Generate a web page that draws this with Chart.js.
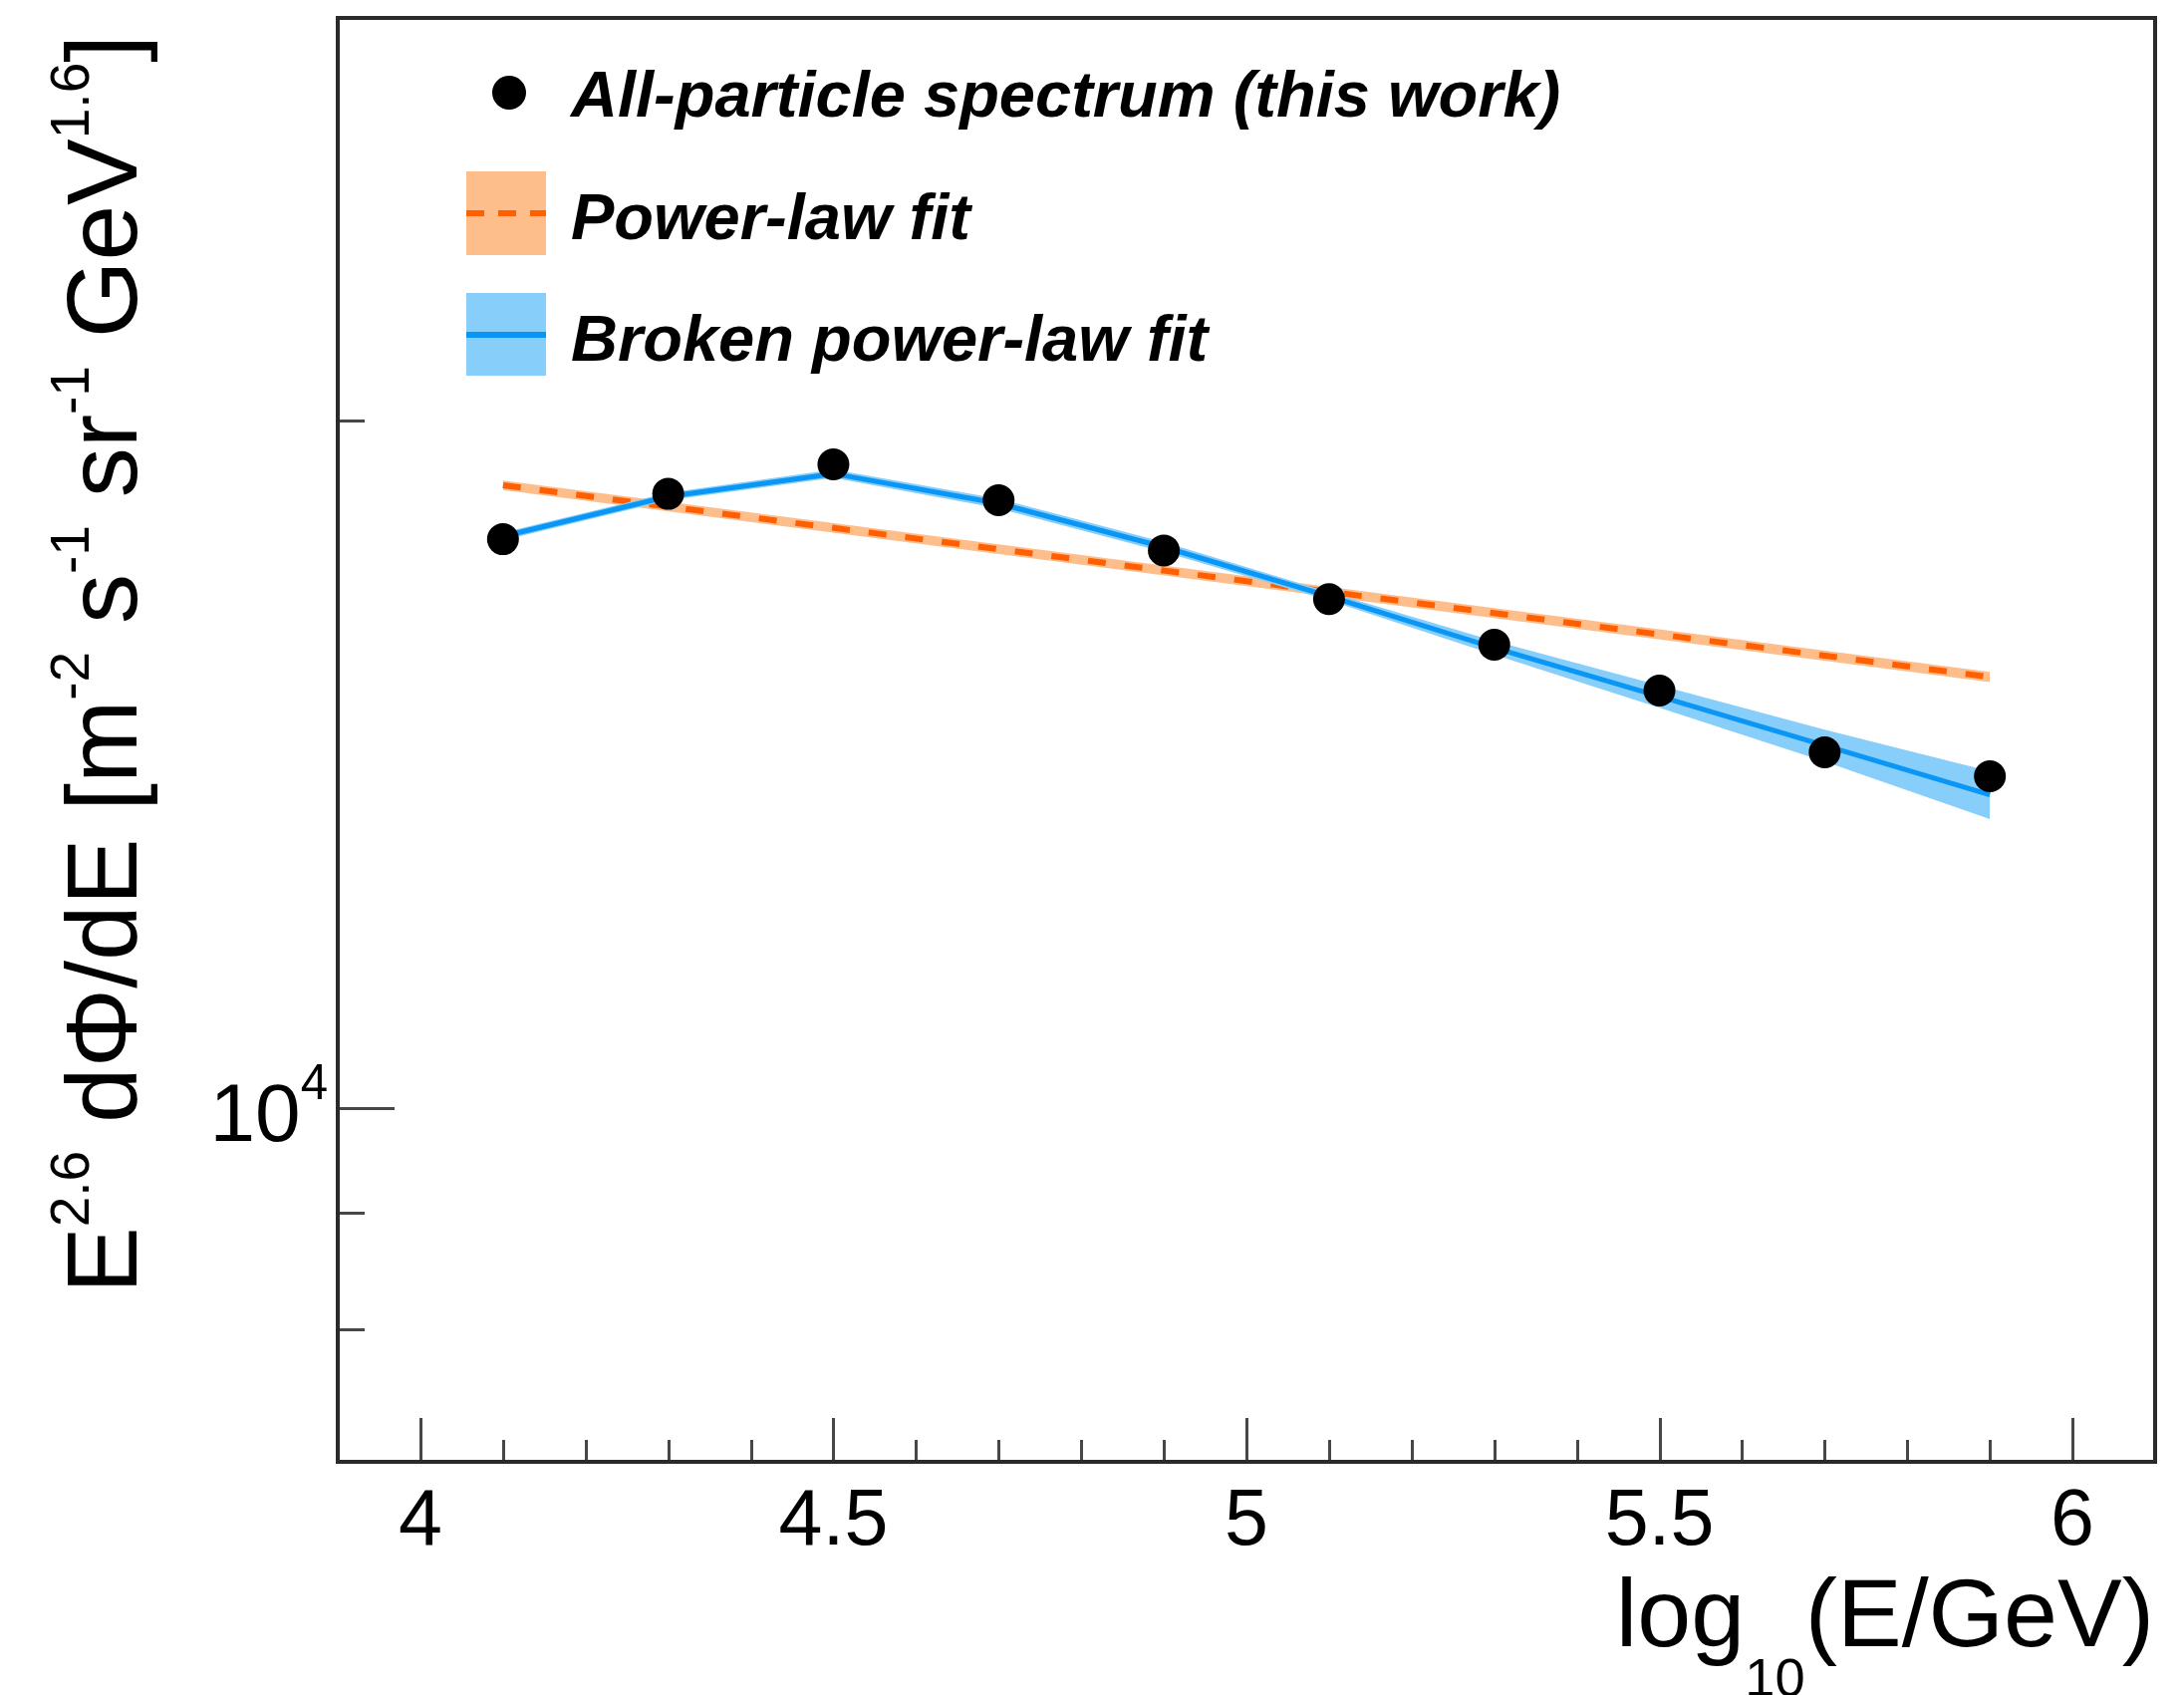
<!DOCTYPE html>
<html>
<head>
<meta charset="utf-8">
<script src="https://cdn.jsdelivr.net/npm/chart.js@4.4.1/dist/chart.umd.min.js"></script>
<style>
  html, body { margin: 0; padding: 0; background: #fff; }
  canvas { display: block; }
</style>
</head>
<body>
<canvas id="spectrum" width="2192" height="1701"></canvas>
<script>
// energy bins, log10(E/GeV)
const logE = [4.1, 4.3, 4.5, 4.7, 4.9, 5.1, 5.3, 5.5, 5.7, 5.9];
// E^2.6 dPhi/dE, all-particle spectrum
const flux = [17740, 18570, 19130, 18450, 17540, 16700, 15950, 15230, 14310, 13970];
// broken power-law fit and its band
const bplFit = [17790, 18520, 18950, 18390, 17600, 16750, 15900, 15140, 14410, 13710];
const bplLow = [17720, 18450, 18870, 18300, 17510, 16680, 15790, 14970, 14180, 13380];
const bplHigh = [17860, 18590, 19030, 18480, 17690, 16820, 16010, 15310, 14640, 14040];
// single power-law fit and its band
const plE = [4.1, 5.9];
const plFit = [18730, 15440];
const plLow = [18640, 15360];
const plHigh = [18820, 15520];
// axis ticks
const xMajorTicks = [4, 4.5, 5, 5.5, 6];
const xTickLabels = ['4', '4.5', '5', '5.5', '6'];
const yMajorTicks = [10000];
const yMinorTicks = [8000, 9000, 20000];

const FAMILY = "'Liberation Sans', Arial, Helvetica, sans-serif";
const ORANGE = '#ff5f00';
const ORANGE_BAND = '#fdbe8c';
const BLUE = '#0a96f5';
const BLUE_BAND = '#87cefa';

const pts = (xs, ys) => xs.map((x, i) => ({ x: x, y: ys[i] }));

// draw a list of text pieces (plain / superscript / subscript) along one baseline
function runsWidth(ctx, runs, size, style) {
  let w = 0;
  for (const r of runs) {
    ctx.font = style + ' ' + (r.sup || r.sub ? size * r.scale : size) + 'px ' + FAMILY;
    w += ctx.measureText(r.t).width;
  }
  return w;
}
function drawRuns(ctx, runs, x, y, size, style) {
  ctx.textAlign = 'left';
  ctx.textBaseline = 'alphabetic';
  for (const r of runs) {
    let s = size, dy = 0;
    if (r.sup || r.sub) { s = size * r.scale; dy = r.shift; }
    ctx.font = style + ' ' + s + 'px ' + FAMILY;
    ctx.fillText(r.t, x, y + dy);
    x += ctx.measureText(r.t).width;
  }
}

const frame = {
  id: 'frame',
  afterDraw(chart) {
    const ctx = chart.ctx;
    const a = chart.chartArea;
    const xs = chart.scales.x, ys = chart.scales.y;
    ctx.save();

    // inward tick marks on bottom and left axes
    ctx.strokeStyle = '#474747';
    ctx.lineWidth = 3;
    ctx.beginPath();
    for (let i = 0; i <= 22; i++) {
      const v = 3.9 + i * 0.1;
      const px = Math.round(xs.getPixelForValue(v)) + 0.5;
      const major = xMajorTicks.some(m => Math.abs(m - v) < 1e-6);
      ctx.moveTo(px, a.bottom);
      ctx.lineTo(px, a.bottom - (major ? 44 : 22));
    }
    for (const v of yMajorTicks) {
      const py = Math.round(ys.getPixelForValue(v)) + 0.5;
      ctx.moveTo(a.left, py);
      ctx.lineTo(a.left + 57, py);
    }
    for (const v of yMinorTicks) {
      const py = Math.round(ys.getPixelForValue(v)) + 0.5;
      ctx.moveTo(a.left, py);
      ctx.lineTo(a.left + 27, py);
    }
    ctx.stroke();

    // frame
    ctx.strokeStyle = '#2a2a2a';
    ctx.lineWidth = 4;
    ctx.strokeRect(a.left, a.top, a.right - a.left, a.bottom - a.top);

    ctx.fillStyle = '#000';

    // x tick labels
    ctx.font = '79px ' + FAMILY;
    ctx.textAlign = 'center';
    ctx.textBaseline = 'alphabetic';
    xMajorTicks.forEach((v, i) => {
      ctx.fillText(xTickLabels[i], xs.getPixelForValue(v), 1550);
    });

    // y tick label 10^4
    const y4 = ys.getPixelForValue(10000);
    const lab = [{ t: '10' }, { t: '4', sup: true, scale: 0.6, shift: -42 }];
    const lw = runsWidth(ctx, lab, 82, 'normal');
    drawRuns(ctx, lab, 329 - lw, y4 + 33, 82, 'normal');

    // x axis title, right aligned
    const xt = [{ t: 'log' }, { t: '10', sub: true, scale: 0.56, shift: 50 }, { t: '(E/GeV)' }];
    const xw = runsWidth(ctx, xt, 97, 'normal');
    drawRuns(ctx, xt, 2162 - xw, 1652, 97, 'normal');

    // y axis title, rotated, aligned to the top
    const sup = t => ({ t: t, sup: true, scale: 0.55, shift: -48 });
    const yt = [{ t: 'E' }, sup('2.6'), { t: ' dΦ/dE [m' }, sup('-2'), { t: ' s' }, sup('-1'),
      { t: ' sr' }, sup('-1'), { t: ' GeV' }, sup('1.6'), { t: ']' }];
    const yw = runsWidth(ctx, yt, 100, 'normal');
    ctx.save();
    ctx.translate(137, 35);
    ctx.rotate(-Math.PI / 2);
    drawRuns(ctx, yt, -yw, 0, 100, 'normal');
    ctx.restore();

    // legend
    ctx.beginPath();
    ctx.arc(511, 93, 17, 0, Math.PI * 2);
    ctx.fill();

    ctx.fillStyle = ORANGE_BAND;
    ctx.fillRect(468, 172, 80, 84);
    ctx.strokeStyle = ORANGE;
    ctx.lineWidth = 6;
    ctx.setLineDash([18, 14]);
    ctx.beginPath();
    ctx.moveTo(468, 214);
    ctx.lineTo(548, 214);
    ctx.stroke();
    ctx.setLineDash([]);

    ctx.fillStyle = BLUE_BAND;
    ctx.fillRect(468, 294, 80, 83);
    ctx.strokeStyle = BLUE;
    ctx.lineWidth = 6;
    ctx.beginPath();
    ctx.moveTo(468, 336);
    ctx.lineTo(548, 336);
    ctx.stroke();

    ctx.fillStyle = '#000';
    ctx.font = 'italic bold 65px ' + FAMILY;
    ctx.textAlign = 'left';
    ctx.fillText('All-particle spectrum (this work)', 573, 117);
    ctx.fillText('Power-law fit', 573, 240);
    ctx.fillText('Broken power-law fit', 573, 362);

    ctx.restore();
  }
};

new Chart(document.getElementById('spectrum'), {
  type: 'line',
  data: {
    datasets: [
      {
        label: 'All-particle spectrum (this work)',
        data: pts(logE, flux),
        showLine: false,
        pointRadius: 16,
        pointBackgroundColor: '#000',
        pointBorderWidth: 0,
        order: 0
      },
      {
        label: 'Broken power-law fit',
        data: pts(logE, bplFit),
        borderColor: BLUE,
        borderWidth: 5,
        pointRadius: 0,
        fill: false,
        order: 1
      },
      {
        data: pts(logE, bplLow),
        borderWidth: 0,
        pointRadius: 0,
        fill: false,
        order: 2
      },
      {
        data: pts(logE, bplHigh),
        borderWidth: 0,
        pointRadius: 0,
        backgroundColor: BLUE_BAND,
        fill: '-1',
        order: 2
      },
      {
        label: 'Power-law fit',
        data: pts(plE, plFit),
        borderColor: ORANGE,
        borderWidth: 6,
        borderDash: [18, 19],
        pointRadius: 0,
        fill: false,
        order: 3
      },
      {
        data: pts(plE, plLow),
        borderWidth: 0,
        pointRadius: 0,
        fill: false,
        order: 4
      },
      {
        data: pts(plE, plHigh),
        borderWidth: 0,
        pointRadius: 0,
        backgroundColor: ORANGE_BAND,
        fill: '-1',
        order: 4
      }
    ]
  },
  options: {
    responsive: false,
    animation: false,
    devicePixelRatio: 1,
    layout: { padding: { left: 339, top: 18, right: 29, bottom: 234 } },
    elements: { line: { tension: 0 } },
    scales: {
      x: { type: 'linear', min: 3.9, max: 6.1, display: false },
      y: { type: 'logarithmic', min: 7000, max: 30000, display: false }
    },
    plugins: {
      legend: { display: false },
      tooltip: { enabled: false }
    }
  },
  plugins: [frame]
});
</script>
</body>
</html>
